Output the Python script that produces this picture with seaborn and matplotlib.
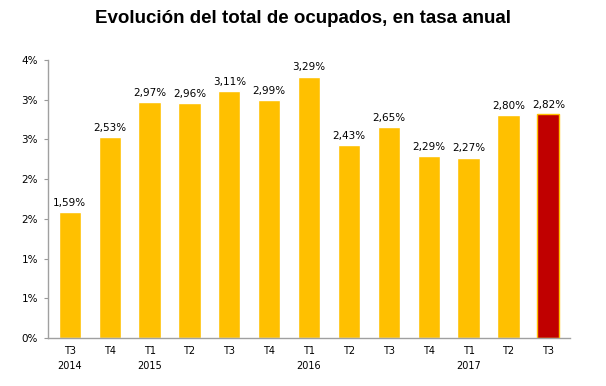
import numpy as np
import pandas as pd
import matplotlib
matplotlib.use('Agg')
import matplotlib.pyplot as plt
import seaborn as sns

quarters = ['T3\n2014', 'T4', 'T1\n2015', 'T2', 'T3', 'T4', 'T1\n2016',
            'T2', 'T3', 'T4', 'T1\n2017', 'T2', 'T3']
values = [1.59, 2.53, 2.97, 2.96, 3.11, 2.99, 3.29, 2.43, 2.65, 2.29, 2.27, 2.80, 2.82]
y_ticks = [0, 0.5, 1.0, 1.5, 2.0, 2.5, 3.0, 3.5]

sns.set_style('white')
plt.rcParams['font.family'] = ['DejaVu Sans']

df = pd.DataFrame({'pos': range(len(values)), 'value': values})
colors = ['#FFC000'] * (len(values) - 1) + ['#C00000']

fig = plt.figure(figsize=(6.06, 3.86), dpi=100)
ax = fig.add_axes([0.079, 0.124, 0.862, 0.721])

sns.barplot(data=df, x='pos', y='value', hue='pos', palette=colors,
            legend=False, width=0.56, saturation=1, ax=ax)
ax.patches[-1].set_edgecolor('#FFC000')
ax.patches[-1].set_linewidth(1)

for cont in ax.containers:
    ax.bar_label(cont, labels=[f'{v:.2f}%'.replace('.', ',') for v in cont.datavalues],
                 padding=3, fontsize=7.5, color='black')

ax.set_xlim(-0.55, len(values) - 0.45)
ax.set_ylim(0, 3.5)
ax.set_yticks(y_ticks)
ax.set_yticklabels([f'{int(np.floor(t + 0.5))}%' for t in y_ticks], fontsize=7.5, color='black')
ax.set_xticks(range(len(values)))
ax.set_xticklabels(quarters, fontsize=7, linespacing=1.6, color='black')
ax.tick_params(axis='y', length=3, color='#999999', left=True, pad=4)
ax.tick_params(axis='x', length=0, pad=6)
ax.set_xlabel('')
ax.set_ylabel('')

for side in ['top', 'right']:
    ax.spines[side].set_visible(False)
for side in ['left', 'bottom']:
    ax.spines[side].set_color('#A0A0A0')
    ax.spines[side].set_linewidth(1)

fig.text(0.5, 0.953, 'Evolución del total de ocupados, en tasa anual',
         ha='center', va='center', fontsize=13.5, fontweight='bold',
         family='Liberation Sans', color='black')

fig.savefig('out.png', dpi=100)
